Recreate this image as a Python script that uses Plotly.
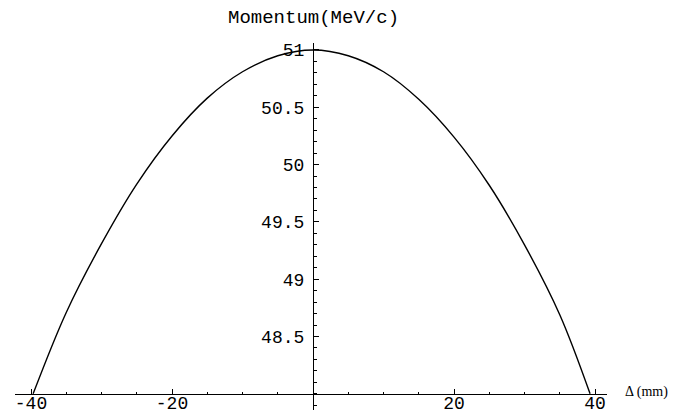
import plotly.graph_objects as go

# Displacement (mm) and momentum (MeV/c)
delta_mm = [-39.7, -35, -30, -25, -20, -15, -10, -5, 0, 5, 10, 15, 20, 25, 30, 35, 39.3]
momentum = [48.00, 48.71, 49.31, 49.83, 50.25, 50.58, 50.81, 50.95, 51.00,
            50.95, 50.81, 50.57, 50.24, 49.82, 49.30, 48.69, 48.00]

x_ticks = [-40, -20, 20, 40]
x_labels = ["-40", "-20", "20", "40"]
y_ticks = [48.5, 49, 49.5, 50, 50.5, 51]
y_labels = ["48.5", "49", "49.5", "50", "50.5", "51"]

x_range = [-42.27, 41.7]
y_range = [47.859, 51.061]
x_cross = 0.0
y_cross = 48.0

mono = "Liberation Mono, Courier New, monospace"

fig = go.Figure()
fig.add_trace(go.Scatter(
    x=delta_mm, y=momentum, mode="lines",
    line=dict(color="black", width=1.4, shape="spline", smoothing=1.0),
    hoverinfo="skip", showlegend=False,
))

xpos = (y_cross - y_range[0]) / (y_range[1] - y_range[0])
ypos = (x_cross - x_range[0]) / (x_range[1] - x_range[0])

fig.update_layout(
    width=673, height=408,
    margin=dict(l=7, r=74, t=35, b=6),
    paper_bgcolor="white", plot_bgcolor="white",
    xaxis=dict(
        range=x_range, anchor="free", position=xpos,
        showline=True, linecolor="black", linewidth=1.2,
        showgrid=False, zeroline=False,
        tickvals=x_ticks, ticktext=x_labels,
        ticks="inside", ticklen=5, tickwidth=1, tickcolor="black",
        minor=dict(dtick=5, tick0=0, ticks="inside", ticklen=2, tickcolor="black", showgrid=False),
        tickfont=dict(family=mono, size=18, color="black"),
        ticklabelstandoff=-8,
        automargin=False,
    ),
    yaxis=dict(
        range=y_range, anchor="free", position=ypos,
        showline=True, linecolor="black", linewidth=1.2,
        showgrid=False, zeroline=False,
        tickvals=y_ticks, ticktext=y_labels,
        ticks="inside", ticklen=5, tickwidth=1, tickcolor="black",
        minor=dict(dtick=0.1, tick0=48, ticks="inside", ticklen=3, tickcolor="black", showgrid=False),
        tickfont=dict(family=mono, size=18, color="black"),
        ticklabelstandoff=5,
        automargin=False,
    ),
)

fig.add_annotation(
    text="Momentum(MeV/c)", x=x_cross, xref="x", y=1, yref="paper",
    yanchor="bottom", yshift=12, xanchor="center", showarrow=False,
    font=dict(family=mono, size=19, color="black"),
)
fig.add_annotation(
    text="\u0394 (mm)", x=1, xref="paper", y=y_cross, yref="y",
    xanchor="left", xshift=16, yanchor="middle", yshift=2, showarrow=False,
    font=dict(family="Liberation Serif, Times New Roman, serif", size=14, color="black"),
)

fig.write_html("out.html")
